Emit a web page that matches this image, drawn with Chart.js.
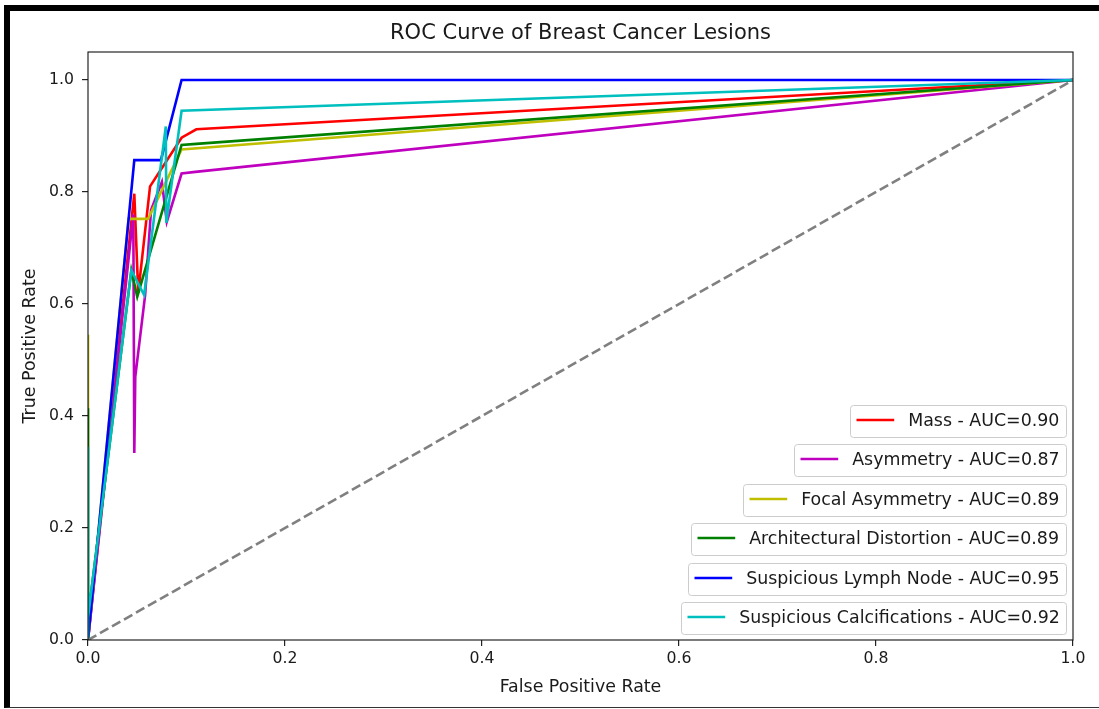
<!DOCTYPE html>
<html>
<head>
<meta charset="utf-8">
<title>ROC Curve of Breast Cancer Lesions</title>
<script src="https://cdn.jsdelivr.net/npm/chart.js@4.4.0/dist/chart.umd.min.js"></script>
<style>
  html, body { margin: 0; padding: 0; background: #fff; }
  .wrap { position: relative; width: 1099px; height: 709px; overflow: hidden; }
  .wrap canvas { position: absolute; left: 0; top: 0; }
  .frame {
    position: absolute; left: 4px; top: 5px; right: -20px; bottom: 1px;
    border-top: 6px solid #000; border-left: 6px solid #000; border-bottom: 1px solid #333;
    pointer-events: none;
  }
</style>
</head>
<body>
<div class="wrap">
  <canvas id="rocChart" width="1099" height="709"></canvas>
  <div class="frame"></div>
</div>
<script>
// Lesion classes and their AUC scores
const categories = ['Mass', 'Asymmetry', 'Focal Asymmetry', 'Architectural Distortion',
    'Suspicious Lymph Node', 'Suspicious Calcifications'];
const aucScores = [0.90, 0.87, 0.89, 0.89, 0.95, 0.92];
const chartTitle = 'ROC Curve of Breast Cancer Lesions';

// ROC points per class
const massFpr = [0, 0.047, 0.051, 0.063, 0.095, 0.110, 1];
const massTpr = [0, 0.797, 0.620, 0.810, 0.897, 0.912, 1];

const asymFpr = [0, 0.046, 0.047, 0.048, 0.058, 0.064, 0.075, 0.080, 0.095, 0.109, 1];
const asymTpr = [0, 0.760, 0.334, 0.470, 0.616, 0.768, 0.818, 0.747, 0.833, 0.836, 1];

const focalFpr = [0, 0, 0, 0.0412, 0.061, 0.095, 1];
const focalTpr = [0, 0.545, 0, 0.752, 0.752, 0.876, 1];

const archFpr = [0, 0, 0, 0.044, 0.050, 0.095, 0.110, 1];
const archTpr = [0, 0.414, 0.04, 0.660, 0.613, 0.884, 0.886, 1];

const lymphFpr = [0, 0.047, 0.074, 0.095, 1];
const lymphTpr = [0, 0.857, 0.857, 1.0, 1];

const calcFpr = [0, 0, 0, 0.044, 0.057, 0.079, 0.0795, 0.095, 1];
const calcTpr = [0, 0.345, 0.04, 0.660, 0.616, 0.917, 0.745, 0.945, 1];

const chanceLine = [0, 1];
const xTicks = [0, 0.2, 0.4, 0.6, 0.8, 1.0];
const yTicks = [0, 0.2, 0.4, 0.6, 0.8, 1.0];

const fprSeries = [massFpr, asymFpr, focalFpr, archFpr, lymphFpr, calcFpr];
const tprSeries = [massTpr, asymTpr, focalTpr, archTpr, lymphTpr, calcTpr];
const lineColors = ['#ff0000', '#bf00bf', '#bfbf00', '#008000', '#0000ff', '#00bfbf'];

const FONT = '"DejaVu Sans", "Liberation Sans", sans-serif';

const datasets = categories.map((name, i) => ({
    label: `${name} - AUC=${aucScores[i].toFixed(2)}`,
    data: fprSeries[i].map((x, k) => ({ x: x, y: tprSeries[i][k] })),
    borderColor: lineColors[i],
    backgroundColor: lineColors[i],
    borderWidth: 2.6,
    pointRadius: 0,
    showLine: true,
    tension: 0,
    order: categories.length - i   // later classes on top, like matplotlib
}));
datasets.push({
    label: '',
    data: chanceLine.map(v => ({ x: v, y: v })),
    borderColor: '#808080',
    borderDash: [9.6, 4.2],
    borderWidth: 2.6,
    pointRadius: 0,
    showLine: true,
    order: 0
});

// axes frame (all four spines)
const frame = {
    id: 'frame',
    afterDatasetsDraw(chart) {
        const { ctx, chartArea: a } = chart;
        ctx.save();
        ctx.strokeStyle = '#111';
        ctx.lineWidth = 1.1;
        ctx.strokeRect(a.left, a.top, a.right - a.left, a.bottom - a.top);
        ctx.restore();
    }
};

// title centred over the plot area (matplotlib style), not the whole canvas
const axesTitle = {
    id: 'axesTitle',
    afterDraw(chart) {
        const { ctx, chartArea: a } = chart;
        ctx.save();
        ctx.font = `21px ${FONT}`;
        ctx.fillStyle = '#1a1a1a';
        ctx.textAlign = 'center';
        ctx.textBaseline = 'middle';
        ctx.fillText(chartTitle, (a.left + a.right) / 2, 33.5);
        ctx.restore();
    }
};

function boxPath(ctx, x, y, w, h, r) {
    ctx.beginPath();
    ctx.moveTo(x + r, y);
    ctx.lineTo(x + w - r, y);
    ctx.quadraticCurveTo(x + w, y, x + w, y + r);
    ctx.lineTo(x + w, y + h - r);
    ctx.quadraticCurveTo(x + w, y + h, x + w - r, y + h);
    ctx.lineTo(x + r, y + h);
    ctx.quadraticCurveTo(x, y + h, x, y + h - r);
    ctx.lineTo(x, y + r);
    ctx.quadraticCurveTo(x, y, x + r, y);
    ctx.closePath();
}

// one boxed entry per class, right aligned in the lower right corner
const boxLegend = {
    id: 'boxLegend',
    afterDraw(chart) {
        const ctx = chart.ctx;
        const right = 1066.5, firstTop = 404.5, step = 39.5, h = 32;
        ctx.save();
        ctx.font = `17.4px ${FONT}`;
        ctx.textBaseline = 'middle';
        chart.data.datasets.filter(d => d.label).forEach((ds, i) => {
            const w = ctx.measureText(ds.label).width + 65.4;
            const x = Math.round(right - w) + 0.5;
            const y = Math.round(firstTop + i * step) + 0.5;
            boxPath(ctx, x, y, right - x, h, 3);
            ctx.fillStyle = 'rgba(255,255,255,0.8)';
            ctx.fill();
            ctx.strokeStyle = '#cccccc';
            ctx.lineWidth = 1;
            ctx.stroke();

            ctx.beginPath();
            ctx.moveTo(x + 6, y + 14.5);
            ctx.lineTo(x + 43.7, y + 14.5);
            ctx.strokeStyle = ds.borderColor;
            ctx.lineWidth = 2.6;
            ctx.stroke();

            ctx.fillStyle = '#1a1a1a';
            ctx.fillText(ds.label, x + 57.7, y + 16);
        });
        ctx.restore();
    }
};

new Chart(document.getElementById('rocChart'), {
    type: 'scatter',
    data: { datasets: datasets },
    options: {
        responsive: false,
        animation: false,
        devicePixelRatio: 1,
        layout: { padding: { left: 0, right: 26, top: 52, bottom: 0 } },
        plugins: {
            legend: { display: false },
            tooltip: { enabled: false },
            title: { display: false }
        },
        scales: {
            x: {
                type: 'linear',
                min: 0,
                max: 1,
                afterBuildTicks: scale => { scale.ticks = xTicks.map(v => ({ value: v })); },
                afterFit: scale => { scale.height = 69; },
                border: { display: false },
                grid: { drawOnChartArea: false, drawTicks: true, tickLength: 6, color: '#222', lineWidth: 1.2 },
                ticks: {
                    padding: 4,
                    color: '#1a1a1a',
                    font: { family: FONT, size: 15.7 },
                    maxRotation: 0,
                    callback: v => Number(v).toFixed(1)
                },
                title: {
                    display: true,
                    text: 'False Positive Rate',
                    color: '#1a1a1a',
                    font: { family: FONT, size: 17.4 },
                    padding: { top: 0, bottom: 11 }
                }
            },
            y: {
                type: 'linear',
                min: 0,
                max: 1.05,
                afterBuildTicks: scale => { scale.ticks = yTicks.map(v => ({ value: v })); },
                afterFit: scale => { scale.width = 88; },
                border: { display: false },
                grid: { drawOnChartArea: false, drawTicks: true, tickLength: 6, color: '#222', lineWidth: 1.2 },
                ticks: {
                    padding: 8,
                    color: '#1a1a1a',
                    font: { family: FONT, size: 15.7 },
                    callback: v => Number(v).toFixed(1)
                },
                title: {
                    display: true,
                    text: 'True Positive Rate',
                    color: '#1a1a1a',
                    font: { family: FONT, size: 17.4 },
                    padding: { top: 20.5, bottom: 0 }
                }
            }
        }
    },
    plugins: [frame, axesTitle, boxLegend]
});
</script>
</body>
</html>
